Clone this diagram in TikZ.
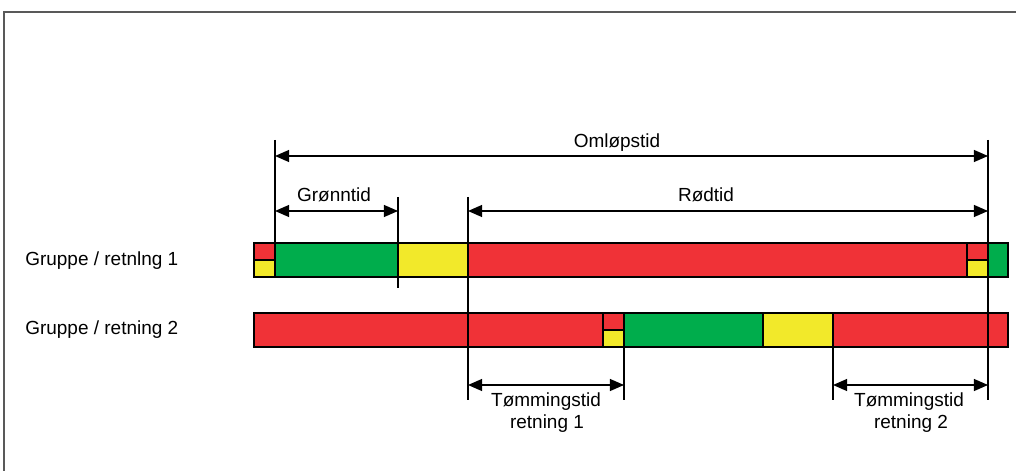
\documentclass[tikz,border=0pt]{standalone}
\usepackage{fontspec}
\setmainfont{Liberation Sans}
\usetikzlibrary{arrows.meta}

\definecolor{sigred}{RGB}{240,50,55}
\definecolor{siggreen}{RGB}{0,173,76}
\definecolor{sigyellow}{RGB}{242,233,42}

\begin{document}
\begin{tikzpicture}[
  x=0.025cm, y=-0.025cm,
  font=\fontsize{13.5}{16}\selectfont,
  seg/.style={draw, line width=1.2pt},
  tick/.style={line width=0.9pt},
  dim/.style={line width=0.9pt, {Triangle[length=10pt,width=8.5pt]}-{Triangle[length=10pt,width=8.5pt]}},
  lbl/.style={inner sep=0pt, anchor=base}
]
\useasboundingbox (0,0) rectangle (1016,471);
% frame, cut off at right and bottom
\draw[black!65, line width=1pt] (4,471) -- (4,12) -- (1016,12);

% row labels
\node[lbl, anchor=base west] (row1) at (25,266) {Gruppe / retnlng 1};
\node[lbl, anchor=base west] (row2) at (25,334) {Gruppe / retning 2};

% bar 1: full cells
\foreach \xa/\xb/\col in {275/398/siggreen, 398/468/sigyellow, 468/967/sigred, 988/1008/siggreen}
  \filldraw[seg, fill=\col] (\xa,243) rectangle (\xb,277);
% bar 2: full cells
\foreach \xa/\xb/\col in {254/603/sigred, 624/763/siggreen, 763/833/sigyellow, 833/1008/sigred}
  \filldraw[seg, fill=\col] (\xa,313) rectangle (\xb,347);
% red/yellow split cells
\foreach \xa/\xb/\ya in {254/275/243, 967/988/243, 603/624/313} {
  \filldraw[seg, fill=sigred] (\xa,\ya) rectangle (\xb,\ya+17);
  \filldraw[seg, fill=sigyellow] (\xa,\ya+17) rectangle (\xb,\ya+34);
}

% tick lines
\coordinate (g1) at (275,140);  \coordinate (g1b) at (275,243);
\coordinate (g2) at (398,197);  \coordinate (g2b) at (398,288);
\coordinate (r1) at (468,197);  \coordinate (r1b) at (468,400);
\coordinate (r2) at (988,140);  \coordinate (r2b) at (988,400);
\coordinate (e1) at (624,347);  \coordinate (e1b) at (624,400);
\coordinate (e2) at (833,347);  \coordinate (e2b) at (833,400);
\foreach \a in {g1,g2,r1,r2,e1,e2}
  \draw[tick] (\a) -- (\a b);

% dimension arrows
\coordinate (omA) at (275,156);  \coordinate (omB) at (988,156);
\coordinate (grA) at (275,211);  \coordinate (grB) at (398,211);
\coordinate (rdA) at (468,211);  \coordinate (rdB) at (988,211);
\coordinate (t1A) at (468,385);  \coordinate (t1B) at (624,385);
\coordinate (t2A) at (833,385);  \coordinate (t2B) at (988,385);
\draw[dim] (omA) -- (omB);
\draw[dim] (grA) -- (grB);
\draw[dim] (rdA) -- (rdB);
\draw[dim] (t1A) -- (t1B);
\draw[dim] (t2A) -- (t2B);

% dimension labels
\node[lbl] (omlbl) at (617,148) {Omløpstid};
\node[lbl] (grlbl) at (334,202) {Grønntid};
\node[lbl] (rdlbl) at (706,202) {Rødtid};
\node[lbl] (t1lbl) at (546,406) {Tømmingstid};
\node[lbl] (t1lbl2) at (547,428) {retning 1};
\node[lbl] (t2lbl) at (909,406) {Tømmingstid};
\node[lbl] (t2lbl2) at (911,428) {retning 2};
\end{tikzpicture}
\end{document}
